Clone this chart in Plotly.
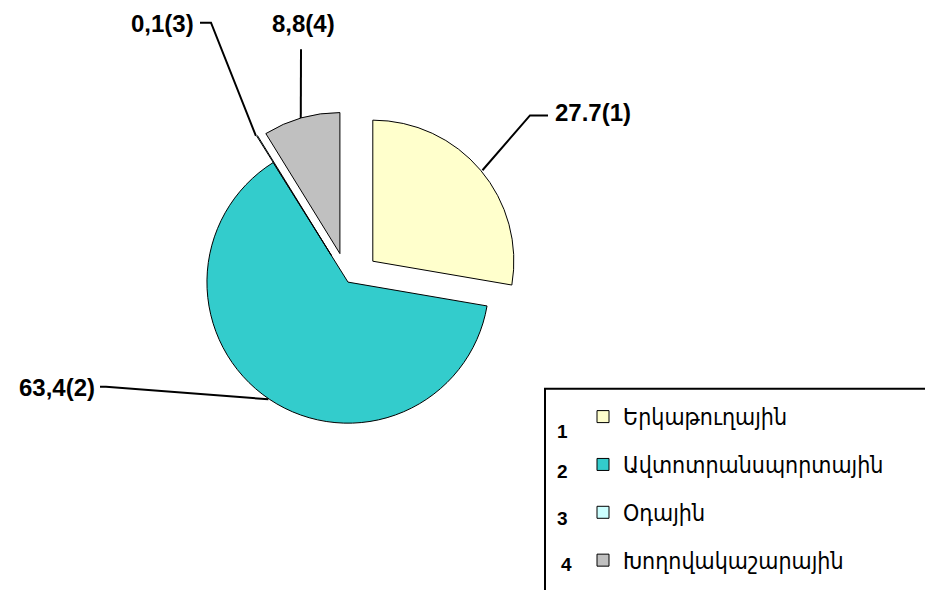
import math
import plotly.graph_objects as go

# ---------------- data ----------------
labels = ["Երկաթուղային", "Ավտոտրանսպորտային", "Օդային", "Խողովակաշարային"]
values = [27.7, 63.4, 0.1, 8.8]
value_text = ["27.7(1)", "63,4(2)", "0,1(3)", "8,8(4)"]
legend_numbers = ["1", "2", "3", "4"]

# ---------------- style / layout ----------------
colors = ["#FFFFCC", "#33CCCC", "#CCFFFF", "#C0C0C0"]
pulls = [0.23, 0.0, 0.22, 0.21]

W, H = 925, 590
CX, CY, R = 348, 286, 143  # pie centre and radius in pixels


def px(x):
    return x / W


def py(y):
    return 1 - y / H


half = R * (1 + max(pulls))
domain_x = [px(CX - half), px(CX + half)]
domain_y = [py(CY + half), py(CY - half)]

fig = go.Figure(
    go.Pie(
        labels=[f'<span style="font-size:23px;baseline-shift:5px">{l}</span>' for l in labels],
        values=values,
        sort=False,
        direction="clockwise",
        rotation=0,
        pull=pulls,
        marker=dict(colors=colors, line=dict(color="black", width=1)),
        textinfo="none",
        hoverinfo="label+value",
        domain=dict(x=domain_x, y=domain_y),
    )
)

# anchor points on each slice (computed from data)
total = sum(values)
anchors = []
cum = 0.0
for v, p in zip(values, pulls):
    theta = 2 * math.pi * (cum + v / 2) / total
    dist = R * (1 + p)
    anchors.append((CX + dist * math.sin(theta), CY - dist * math.cos(theta)))
    cum += v

# label positions (pixels) and leader-line elbows
label_pos = [
    dict(x=553, y=114, xanchor="left", elbow=[(530, 117), (548, 117)]),
    dict(x=97, y=393, xanchor="right", elbow=[(100, 392), (106, 392)]),
    dict(x=196, y=24, xanchor="right", elbow=[(200, 23), (211, 23)]),
    dict(x=303, y=24, xanchor="center", elbow=[(301, 50)]),
]

shapes = []
annotations = []
for i, (txt, lp, a) in enumerate(zip(value_text, label_pos, anchors)):
    annotations.append(dict(
        x=px(lp["x"]), y=py(lp["y"]), xref="paper", yref="paper",
        text=f"<b>{txt}</b>", showarrow=False,
        xanchor=lp["xanchor"], yanchor="middle",
        font=dict(family="Liberation Sans, Arial", size=24, color="black"),
    ))
    pts = list(lp["elbow"])
    if i == 0:
        pts = [a] + pts
    else:
        pts = pts + [a]
    path = "M " + " L ".join(f"{px(x):.5f},{py(y):.5f}" for x, y in pts)
    shapes.append(dict(type="path", path=path, xref="paper", yref="paper",
                       line=dict(color="black", width=2)))

# legend box
shapes.append(dict(type="rect", xref="paper", yref="paper",
                   x0=px(545), x1=1.1, y0=-0.1, y1=py(394),
                   line=dict(color="black", width=2), fillcolor="rgba(0,0,0,0)"))

num_x = [562, 562, 562, 566]
num_y = [437, 478, 526, 572]
for n, xx, yy in zip(legend_numbers, num_x, num_y):
    annotations.append(dict(
        x=px(xx), y=py(yy), xref="paper", yref="paper", text=f"<b>{n}</b>",
        showarrow=False, xanchor="center", yanchor="middle",
        font=dict(family="Liberation Sans, Arial", size=19, color="black"),
    ))

fig.update_layout(
    width=W, height=H,
    margin=dict(l=0, r=0, t=0, b=0),
    paper_bgcolor="white", plot_bgcolor="white",
    showlegend=True,
    legend=dict(
        x=px(583), y=py(393), xanchor="left", yanchor="top",
        font=dict(family="DejaVu Sans Condensed, DejaVu Sans", size=34.5, color="black"),
        bgcolor="rgba(0,0,0,0)", borderwidth=0,
    ),
    shapes=shapes,
    annotations=annotations,
)

fig.write_html("out.html", post_script="document.body.style.margin='0';",
               config={"displayModeBar": False})
